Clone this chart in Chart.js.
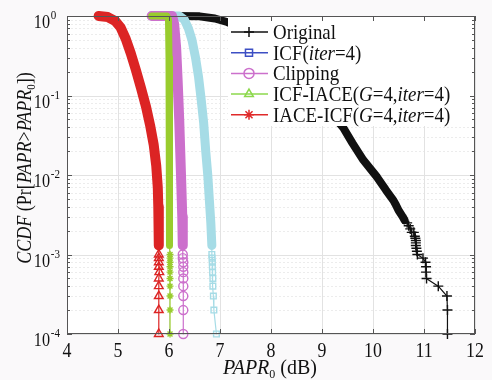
<!DOCTYPE html>
<html>
<head>
<meta charset="utf-8">
<script src="https://cdn.jsdelivr.net/npm/chart.js@4.4.1/dist/chart.umd.min.js"></script>
<style>
  html, body { margin: 0; padding: 0; background: #ffffff; }
  canvas { display: block; }
</style>
</head>
<body>
<canvas id="ccdf" width="492" height="380"></canvas>
<script>
/* ------------------------------------------------------------------ */
/*  Data (x = PAPR0 in dB, p = CCDF)            */
/* ------------------------------------------------------------------ */

const xTicks = [4, 5, 6, 7, 8, 9, 10, 11, 12];
const yTicks = [1, 0.1, 0.01, 0.001, 0.0001];
const yTickExp = ['0', '-1', '-2', '-3', '-4'];

// Original (black, +)
const origX = [6.05, 6.60, 6.90, 7.14, 7.50, 8.00, 8.50, 9.00, 9.42, 9.60, 9.81, 10.08, 10.25, 10.40, 10.45, 10.50,
               10.58, 10.62, 10.67, 10.70, 10.73, 10.76, 10.80, 10.82, 10.83, 10.84, 10.84, 10.84, 10.85, 10.86,
               10.87, 10.98, 11.03, 11.04, 11.04, 11.05, 11.28, 11.45, 11.46, 11.46];
const origP = [1, 0.99, 0.93, 0.84, 0.68, 0.42, 0.20, 0.08, 0.039, 0.025, 0.0154, 0.0094, 0.0065, 0.0048, 0.0042, 0.0036,
               0.0030, 0.0027, 0.0025, 0.0023, 0.0021, 0.0019, 0.0019, 0.0017, 0.0016, 0.0015, 0.0014, 0.0013, 0.0012, 0.0011,
               0.0010, 0.0009, 0.0008, 0.0007, 0.0006, 0.0005, 0.0004, 0.0003, 0.0002, 0.0001];

// ICF(iter=4) (blue, squares) - sits under the cyan curve
const icfX = [5.66, 6.20, 6.30, 6.38, 6.45, 6.52, 6.58, 6.63, 6.68, 6.72, 6.76, 6.79, 6.82, 6.84];
const icfP = [1, 1, 0.9, 0.7, 0.5, 0.3, 0.17, 0.09, 0.045, 0.02, 0.01, 0.005, 0.0025, 0.0013];

// light-blue curve with squares
const cyanX = [5.66, 6.20, 6.30, 6.38, 6.45, 6.52, 6.58, 6.63, 6.68, 6.72, 6.76, 6.79, 6.82, 6.84,
               6.84, 6.845, 6.85, 6.85, 6.855, 6.86, 6.86, 6.87, 6.88, 6.93];
const cyanP = [1, 1, 0.9, 0.7, 0.5, 0.3, 0.17, 0.09, 0.045, 0.02, 0.01, 0.005, 0.0025, 0.0013,
               0.0010, 0.0009, 0.0008, 0.0007, 0.0006, 0.0005, 0.0004, 0.0003, 0.0002, 0.0001];

// Clipping (magenta, circles)
const clipX = [5.66, 6.06, 6.10, 6.14, 6.17, 6.20, 6.22, 6.24, 6.26, 6.27,
               6.27, 6.27, 6.28, 6.28, 6.28, 6.28, 6.28, 6.28, 6.28, 6.28];
const clipP = [1, 1, 0.8, 0.4, 0.15, 0.05, 0.02, 0.008, 0.003, 0.0013,
               0.0010, 0.0009, 0.0008, 0.0007, 0.0006, 0.0005, 0.0004, 0.0003, 0.0002, 0.0001];

// green curve with asterisks
const greenX = [5.66, 5.96, 5.99, 6.00, 6.01, 6.01, 6.01, 6.01,
                6.02, 6.02, 6.02, 6.02, 6.02, 6.02, 6.02, 6.02, 6.02, 6.02];
const greenP = [1, 1, 0.9, 0.3, 0.05, 0.01, 0.003, 0.0013,
                0.0010, 0.0009, 0.0008, 0.0007, 0.0006, 0.0005, 0.0004, 0.0003, 0.0002, 0.0001];

// red curve with triangles
const redX = [4.62, 4.80, 4.95, 5.05, 5.15, 5.25, 5.35, 5.45, 5.55, 5.63, 5.70, 5.75, 5.78, 5.79, 5.80, 5.80,
              5.80, 5.80, 5.80, 5.80, 5.81, 5.80, 5.80, 5.80, 5.80, 5.80];
const redP = [1, 0.97, 0.86, 0.72, 0.52, 0.34, 0.21, 0.125, 0.072, 0.042, 0.024, 0.013, 0.007, 0.004, 0.002, 0.0013,
              0.0010, 0.0009, 0.0008, 0.0007, 0.0006, 0.0005, 0.0004, 0.0003, 0.0002, 0.0001];

const legendText = ['Original', 'ICF(*iter*=4)', 'Clipping', 'ICF-IACE(*G*=4,*iter*=4)', 'IACE-ICF(*G*=4,*iter*=4)'];
const legendColors = ['#111111', '#3d4fc4', '#cc70cc', '#8cd84c', '#e02a2a'];
const legendStyles = ['cross', 'rect', 'circle', 'triangle', 'star'];

const xTitle = '*PAPR*_0_ (dB)';
const yTitle = '*CCDF* (Pr[*PAPR*>*PAPR*_0_])';

const FONT = '"Liberation Serif", "DejaVu Serif", serif';

/* ------------------------------------------------------------------ */
/*  Helpers                                                            */
/* ------------------------------------------------------------------ */

// thick band where the markers pile up, thin line + markers below `cut`
function series(xs, ps, color, style, radius, band, cut) {
    return {
        data: xs.map((x, i) => ({ x: x, y: ps[i] })),
        showLine: true,
        borderColor: color,
        borderWidth: 1.2,
        borderCapStyle: 'round',
        borderJoinStyle: 'round',
        segment: { borderWidth: ctx => (ctx.p1.parsed.y > cut ? band : 1.2) },
        pointStyle: style,
        pointRadius: ctx => (ctx.raw && ctx.raw.y <= cut ? radius : 0),
        pointBorderColor: color,
        pointBackgroundColor: 'rgba(0,0,0,0)',
        pointBorderWidth: 1.4,
        clip: false,
        tension: 0
    };
}

// '*x*' -> italic, '_x_' -> subscript
function parseRich(str) {
    return str.split(/(\*[^*]+\*|_[^_]+_)/).filter(s => s.length).map(s => {
        if (s[0] === '*') return { t: s.slice(1, -1), it: true, sub: false };
        if (s[0] === '_') return { t: s.slice(1, -1), it: false, sub: true };
        return { t: s, it: false, sub: false };
    });
}

function segFont(seg, size) {
    return (seg.it ? 'italic ' : '') + (seg.sub ? Math.round(size * 0.62) : size) + 'px ' + FONT;
}

function richWidth(ctx, segs, size) {
    let w = 0;
    segs.forEach(s => { ctx.font = segFont(s, size); w += ctx.measureText(s.t).width; });
    return w;
}

// draws at current transform origin, left aligned
function drawRich(ctx, segs, x, y, size) {
    ctx.textAlign = 'left';
    ctx.textBaseline = 'alphabetic';
    segs.forEach(s => {
        ctx.font = segFont(s, size);
        ctx.fillText(s.t, x, y + (s.sub ? size * 0.22 : 0));
        x += ctx.measureText(s.t).width;
    });
}

/* ------------------------------------------------------------------ */
/*  Plugins: grid, legend, frame + labels                              */
/* ------------------------------------------------------------------ */

const gridPlugin = {
    id: 'grid',
    beforeDatasetsDraw(chart) {
        const { ctx, chartArea: a, scales: { x, y } } = chart;
        ctx.save();
        ctx.fillStyle = '#faf9fa';
        ctx.fillRect(0, 0, chart.width, chart.height);
        ctx.fillStyle = '#ffffff';
        ctx.fillRect(a.left, a.top, a.right - a.left, a.bottom - a.top);

        ctx.lineWidth = 1;
        ctx.strokeStyle = '#ececec';
        ctx.setLineDash([2, 2]);
        for (let e = -4; e < 0; e++) {
            for (let k = 2; k <= 9; k++) {
                const py = Math.round(y.getPixelForValue(k * Math.pow(10, e))) + 0.5;
                ctx.beginPath(); ctx.moveTo(a.left, py); ctx.lineTo(a.right, py); ctx.stroke();
            }
        }
        ctx.setLineDash([]);
        ctx.strokeStyle = '#e2e2e2';
        xTicks.forEach(v => {
            const px = Math.round(x.getPixelForValue(v)) + 0.5;
            ctx.beginPath(); ctx.moveTo(px, a.top); ctx.lineTo(px, a.bottom); ctx.stroke();
        });
        yTicks.forEach(v => {
            const py = Math.round(y.getPixelForValue(v)) + 0.5;
            ctx.beginPath(); ctx.moveTo(a.left, py); ctx.lineTo(a.right, py); ctx.stroke();
        });
        ctx.restore();
    }
};

const legendPlugin = {
    id: 'richLegend',
    afterDatasetsDraw(chart) {
        const ctx = chart.ctx;
        const drawPoint = Chart.helpers && Chart.helpers.drawPoint;
        ctx.save();
        ctx.fillStyle = '#ffffff';
        ctx.fillRect(228, 17, 245, 109);
        legendText.forEach((txt, i) => {
            const ry = 32 + i * 20.7;
            ctx.strokeStyle = legendColors[i];
            ctx.lineWidth = 1.5;
            ctx.beginPath(); ctx.moveTo(231, ry); ctx.lineTo(268, ry); ctx.stroke();
            if (drawPoint) {
                ctx.fillStyle = 'rgba(0,0,0,0)';
                drawPoint(ctx, { pointStyle: legendStyles[i], rotation: 0, radius: 5, borderWidth: 1.5 }, 249, ry);
            }
            ctx.fillStyle = '#111111';
            ctx.save();
            ctx.translate(273, ry + 7);
            ctx.scale(0.9, 1);
            drawRich(ctx, parseRich(txt), 0, 0, 21);
            ctx.restore();
        });
        ctx.restore();
    }
};

const framePlugin = {
    id: 'frame',
    afterDraw(chart) {
        const { ctx, chartArea: a, scales: { x, y } } = chart;
        ctx.save();
        ctx.strokeStyle = '#555555';
        ctx.lineWidth = 1;
        ctx.strokeRect(a.left + 0.5, a.top + 0.5, a.right - a.left - 1, a.bottom - a.top - 1);

        ctx.beginPath();
        xTicks.forEach(v => {
            const px = Math.round(x.getPixelForValue(v)) + 0.5;
            ctx.moveTo(px, a.bottom); ctx.lineTo(px, a.bottom - 5);
            ctx.moveTo(px, a.top); ctx.lineTo(px, a.top + 5);
        });
        yTicks.forEach(v => {
            const py = Math.round(y.getPixelForValue(v)) + 0.5;
            ctx.moveTo(a.left, py); ctx.lineTo(a.left + 5, py);
            ctx.moveTo(a.right, py); ctx.lineTo(a.right - 5, py);
        });
        for (let e = -4; e < 0; e++) {
            for (let k = 2; k <= 9; k++) {
                const py = Math.round(y.getPixelForValue(k * Math.pow(10, e))) + 0.5;
                ctx.moveTo(a.left, py); ctx.lineTo(a.left + 3, py);
                ctx.moveTo(a.right, py); ctx.lineTo(a.right - 3, py);
            }
        }
        ctx.stroke();

        ctx.fillStyle = '#111111';
        ctx.textBaseline = 'alphabetic';

        // x tick labels
        xTicks.forEach(v => {
            ctx.save();
            ctx.translate(x.getPixelForValue(v), 357);
            ctx.scale(0.85, 1);
            ctx.font = '21px ' + FONT;
            ctx.textAlign = 'center';
            ctx.fillText(String(v), 0, 0);
            ctx.restore();
        });

        // y tick labels 10^n
        yTicks.forEach((v, i) => {
            const py = y.getPixelForValue(v);
            ctx.save();
            ctx.translate(50, py + 12);
            ctx.scale(0.85, 1);
            ctx.font = '19px ' + FONT;
            ctx.textAlign = 'right';
            ctx.fillText('10', 0, 0);
            ctx.font = '13px ' + FONT;
            ctx.textAlign = 'left';
            ctx.fillText(yTickExp[i], 1, -9);
            ctx.restore();
        });

        // x title
        const xs = parseRich(xTitle);
        const xw = richWidth(ctx, xs, 20);
        drawRich(ctx, xs, 270 - xw / 2, 374, 20);

        // y title (rotated)
        const ys = parseRich(yTitle);
        ctx.save();
        ctx.translate(31, 168);
        ctx.rotate(-Math.PI / 2);
        ctx.scale(0.9, 1);
        const yw = richWidth(ctx, ys, 20);
        drawRich(ctx, ys, -yw / 2, 0, 20);
        ctx.restore();

        ctx.restore();
    }
};

/* ------------------------------------------------------------------ */
/*  Chart                                                              */
/* ------------------------------------------------------------------ */

// index 0 is painted last (on top)
const datasets = [
    series(greenX, greenP, '#99cc2e', 'star', 3.5, 7, 0.00125),
    series(clipX, clipP, '#cc70cc', 'circle', 4.5, 10, 0.00125),
    series(redX, redP, '#dc2424', 'triangle', 5, 10, 0.00125),
    series(cyanX, cyanP, '#a6dce6', 'rect', 4, 9, 0.00125),
    series(icfX, icfP, '#3d4fc4', 'rect', 4, 1.5, 0.00125),
    series(origX, origP, '#111111', 'cross', 5, 8, 0.0026)
];

new Chart(document.getElementById('ccdf'), {
    type: 'scatter',
    data: { datasets: datasets },
    options: {
        responsive: false,
        animation: false,
        devicePixelRatio: 1,
        events: [],
        layout: { padding: { left: 67, right: 17, top: 16, bottom: 46 } },
        scales: {
            x: { type: 'linear', display: false, min: 4, max: 12 },
            y: { type: 'logarithmic', display: false, min: 0.0001, max: 1 }
        },
        plugins: {
            legend: { display: false },
            tooltip: { enabled: false }
        }
    },
    plugins: [gridPlugin, legendPlugin, framePlugin]
});
</script>
</body>
</html>
